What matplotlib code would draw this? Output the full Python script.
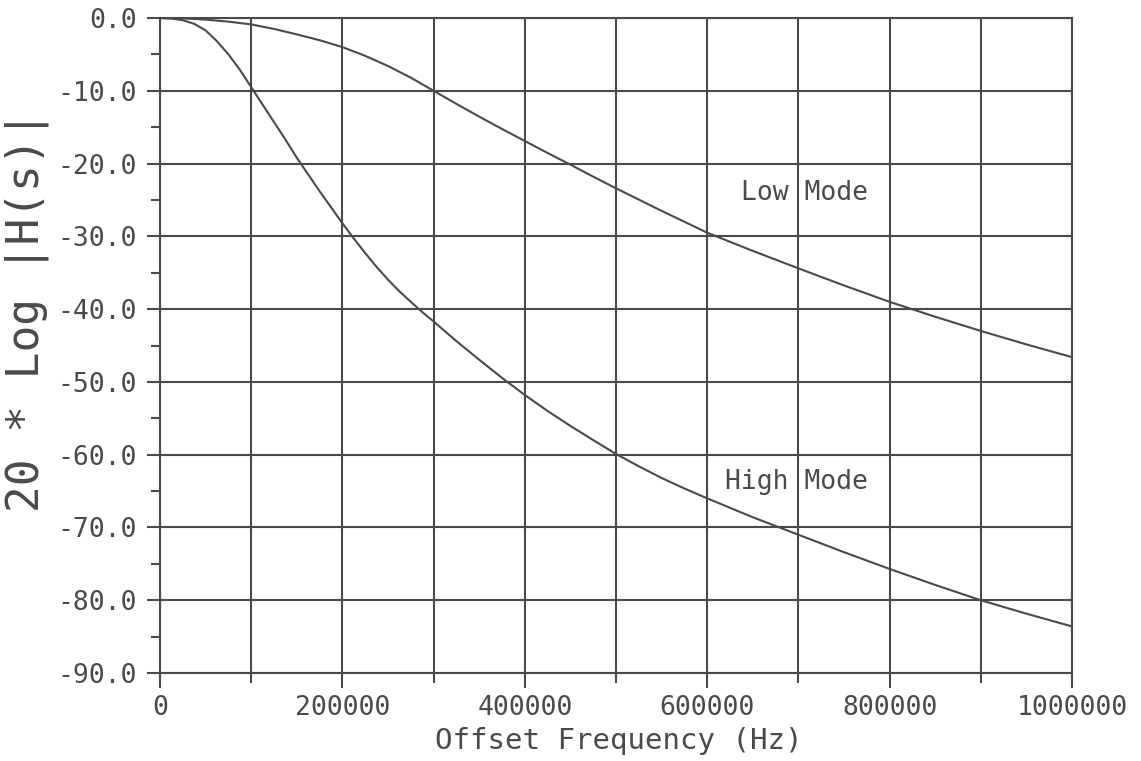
import matplotlib
matplotlib.use("Agg")
import matplotlib.pyplot as plt
from matplotlib.ticker import FixedLocator, FixedFormatter

# ---- data ----
high_freq_hz = [0, 12500, 25000, 37500, 50000, 62500, 75000, 87500, 100000,
                112500, 125000, 137500, 150000, 162500, 175000, 187500, 200000,
                212500, 225000, 237500, 250000, 262500, 275000, 287500, 300000,
                325000, 350000, 375000, 400000, 425000, 450000, 475000, 500000,
                525000, 550000, 575000, 600000, 650000, 700000, 750000, 800000,
                850000, 900000, 950000, 1000000]
high_mode_db = [0.0, -0.08, -0.3, -0.8, -1.7, -3.2, -5.0, -7.1, -9.5,
                -11.9, -14.3, -16.7, -19.2, -21.5, -23.8, -26.0, -28.2,
                -30.3, -32.3, -34.2, -35.95, -37.55, -39.0, -40.4, -41.7,
                -44.4, -46.95, -49.45, -51.8, -54.0, -56.05, -58.0, -59.9,
                -61.6, -63.2, -64.65, -66.0, -68.6, -71.0, -73.4, -75.7,
                -77.9, -80.0, -81.85, -83.6]

low_freq_hz = [0, 25000, 50000, 75000, 100000, 125000, 150000, 175000, 200000,
               225000, 250000, 275000, 300000, 325000, 350000, 375000, 400000,
               425000, 450000, 475000, 500000, 550000, 600000, 650000, 700000,
               750000, 800000, 850000, 900000, 950000, 1000000]
low_mode_db = [0.0, -0.05, -0.22, -0.5, -0.88, -1.5, -2.25, -3.05, -4.0,
               -5.2, -6.6, -8.2, -10.0, -11.8, -13.55, -15.25, -16.9,
               -18.55, -20.15, -21.8, -23.4, -26.5, -29.5, -32.0, -34.4,
               -36.75, -39.0, -41.05, -43.0, -44.85, -46.6]

x_major_ticks = [0, 200000, 400000, 600000, 800000, 1000000]
x_tick_labels = ["0", "200000", "400000", "600000", "800000", "1000000"]
x_minor_ticks = [100000, 300000, 500000, 700000, 900000]

y_major_ticks = [0, -10, -20, -30, -40, -50, -60, -70, -80, -90]
y_tick_labels = ["0.0", "-10.0", "-20.0", "-30.0", "-40.0",
                 "-50.0", "-60.0", "-70.0", "-80.0", "-90.0"]
y_minor_ticks = [-5, -15, -25, -35, -45, -55, -65, -75, -85]

x_label = "Offset Frequency (Hz)"
y_label = "20 * Log |H(s)|"
low_label = "Low Mode"
high_label = "High Mode"
low_label_pos = (707000, -24.0)
high_label_pos = (698000, -63.7)

# ---- style ----
INK = "#4a4a4a"
FONT = "DejaVu Sans Mono"
LW = 1.5

fig = plt.figure(figsize=(11.41, 7.61), dpi=100)
fig.patch.set_facecolor("white")
ax = fig.add_axes([160 / 1141, 1 - 673 / 761, 912 / 1141, 655 / 761])
ax.set_facecolor("white")

ax.plot(low_freq_hz, low_mode_db, color=INK, lw=LW, solid_capstyle="round",
        solid_joinstyle="round")
ax.plot(high_freq_hz, high_mode_db, color=INK, lw=LW, solid_capstyle="round",
        solid_joinstyle="round")

ax.set_xlim(0, 1000000)
ax.set_ylim(-90, 0)

ax.xaxis.set_major_locator(FixedLocator(x_major_ticks))
ax.xaxis.set_major_formatter(FixedFormatter(x_tick_labels))
ax.xaxis.set_minor_locator(FixedLocator(x_minor_ticks))
ax.yaxis.set_major_locator(FixedLocator(y_major_ticks))
ax.yaxis.set_major_formatter(FixedFormatter(y_tick_labels))
ax.yaxis.set_minor_locator(FixedLocator(y_minor_ticks))

ax.grid(which="major", axis="both", color=INK, lw=LW)
ax.grid(which="minor", axis="x", color=INK, lw=LW)
ax.set_axisbelow(True)

for s in ax.spines.values():
    s.set_color(INK)
    s.set_linewidth(LW)

ax.tick_params(axis="x", which="major", direction="out", length=10.8,
               width=LW, color=INK, pad=5, labelsize=19, labelcolor=INK)
ax.tick_params(axis="x", which="minor", direction="out", length=7.2,
               width=LW, color=INK)
ax.tick_params(axis="y", which="major", direction="out", length=9.4,
               width=LW, color=INK, pad=7, labelsize=19, labelcolor=INK)
ax.tick_params(axis="y", which="minor", direction="out", length=6.5,
               width=LW, color=INK)
for lab in ax.get_xticklabels() + ax.get_yticklabels():
    lab.set_family(FONT)

ax.set_xlabel(x_label, family=FONT, fontsize=21, color=INK, va="center")
ax.xaxis.set_label_coords(0.503, -0.1038)
ax.set_ylabel(y_label, family=FONT, fontsize=32, color=INK, va="center")
ax.yaxis.set_label_coords(-0.1458, 0.5527)

ax.text(*low_label_pos, low_label, family=FONT, fontsize=19, color=INK,
        ha="center", va="center")
ax.text(*high_label_pos, high_label, family=FONT, fontsize=19, color=INK,
        ha="center", va="center")

fig.savefig("out.png", dpi=100, facecolor="white")
